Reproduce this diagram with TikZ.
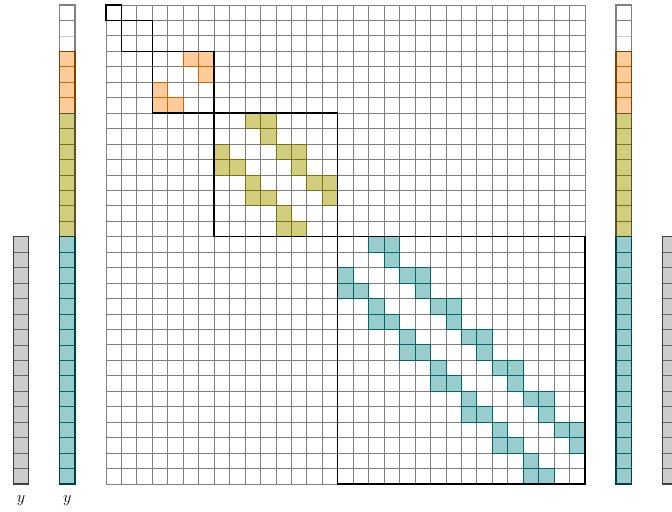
\documentclass[tikz,border=0pt]{standalone}
\usepackage{amsmath}
\usetikzlibrary{positioning}
\tikzset{
  gridline/.style={draw=gray, line width=0.6pt},
  hcell/.style={fill=#1!40, draw=#1!80!black, line width=0.6pt},
  vcell/.style={fill=#1!40, draw=#1!80!black, line width=0.5pt},
  vedge/.style={draw=#1!50!black, line width=0.9pt},
  blockedge/.style={draw=black, line width=1pt}
}
% one pair of L-shaped entries, mirrored about the diagonal
\newcommand{\lpair}[2]{%
  \foreach \i/\j in {0/2,0/3,1/3,2/0,3/0,3/1}
    \draw[hcell=#2] ({#1+\j},{#1+\i}) rectangle ++(1,1);}
% one block of a vector: x, first row, size, colour
\newcommand{\vecblock}[4]{%
  \foreach \k in {1,...,#3}
    \draw[vcell=#4] (#1,{#2+\k-1}) rectangle ++(1,1);
  \draw[vedge=#4] (#1,#2) rectangle ++(1,#3);}

\begin{document}
\begin{tikzpicture}[x=4mm, y=-4mm]
    \useasboundingbox (-6.86,-0.32) rectangle (36.63,32.75);
    \draw[gridline, step=4mm] (0,0) grid (31,31);
    \lpair{3}{orange}
    \foreach \r in {7,9,11} {\lpair{\r}{olive}}
    \foreach \r in {15,17,...,27} {\lpair{\r}{teal}}
    \foreach \o/\n in {0/1,1/2,3/4,7/8,15/16}
      \draw[blockedge] (\o,\o) rectangle ++(\n,\n);
    % vectors
    \foreach \x in {-3,33} {
      \vecblock{\x}{0}{1}{white}
      \vecblock{\x}{1}{2}{white}
      \vecblock{\x}{3}{4}{orange}
      \vecblock{\x}{7}{8}{olive}
      \vecblock{\x}{15}{16}{teal}
    }
    \vecblock{-6}{15}{16}{gray}
    \vecblock{36}{15}{16}{gray}
    \node[font=\large] (ygray) at (-5.5,32.05) {$y$};
    \node[font=\large] (yvec) at (-2.5,32.05) {$y$};
\end{tikzpicture}
\end{document}
